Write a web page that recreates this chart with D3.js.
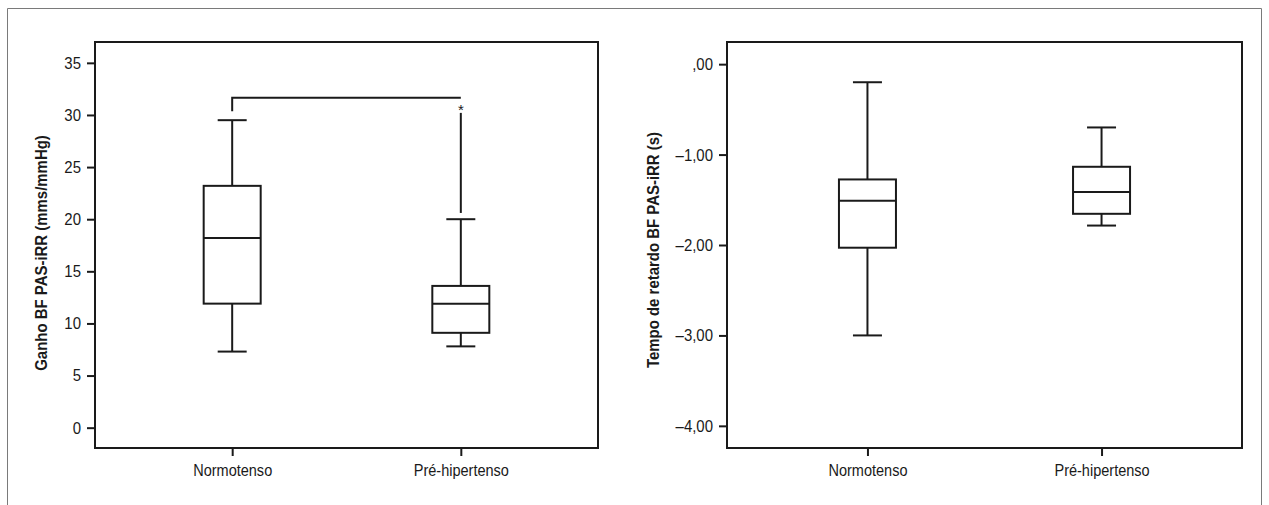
<!DOCTYPE html>
<html>
<head>
<meta charset="utf-8">
<script src="https://cdn.jsdelivr.net/npm/d3@7"></script>
<style>
  body { margin: 0; background: #fff; }
  svg text { font-family: "Liberation Sans", Arial, sans-serif; fill: #1a1a1a; }
</style>
</head>
<body>
<svg id="chart" width="1269" height="505"></svg>
<script>
// groups on the x axis (both panels)
const groups = ["Normotenso", "Pré-hipertenso"];

// left panel: Ganho BF PAS-iRR (mms/mmHg)
const gainLow = [7.3, 7.8];
const gainQ1 = [11.9, 9.1];
const gainMedian = [18.2, 11.9];
const gainQ3 = [23.2, 13.6];
const gainHigh = [29.5, 20.0];
const gainTicks = [0, 5, 10, 15, 20, 25, 30, 35];
// extreme value segment on Pré-hipertenso and the significance bracket
const gainExtreme = [null, [20.6, 30.2]];
const gainBracket = { y: 31.65, leg: 30.35, mark: "*", markAt: 30.85 };

// right panel: Tempo de retardo BF PAS-iRR (s)
const delayLow = [-3.0, -1.785];
const delayQ1 = [-2.03, -1.655];
const delayMedian = [-1.51, -1.415];
const delayQ3 = [-1.275, -1.135];
const delayHigh = [-0.2, -0.7];
const delayTicks = [0, -1, -2, -3, -4];

const svg = d3.select('#chart');
const ink = '#1a1a1a';
const squeeze = 0.88; // the original uses a condensed face

// outer figure frame (open at the bottom)
svg.append('path')
  .attr('d', 'M7.5,505 V8.5 H1261.5 V505')
  .attr('fill', 'none')
  .attr('stroke', '#7a7a7a')
  .attr('stroke-width', 1);

// squeeze text horizontally, keeping its anchor point in place
function narrow(sel) {
  sel.each(function() {
    const t = d3.select(this);
    const x = +t.attr('x') || 0;
    t.attr('x', x / squeeze).attr('transform', `scale(${squeeze},1)`);
  });
}

function drawPanel(cfg) {
  const g = svg.append('g');
  const y = d3.scaleLinear().domain(cfg.domain).range([cfg.bottom, cfg.top]);
  const x = d3.scalePoint().domain(groups).range([cfg.left, cfg.right]).padding(0.6);
  const boxW = 57, capW = 29;

  // y axis
  const yAxis = g.append('g')
    .attr('transform', `translate(${cfg.left},0)`)
    .call(d3.axisLeft(y).tickValues(cfg.ticks).tickSize(8).tickPadding(6).tickFormat(cfg.format));
  yAxis.select('.domain').remove();
  yAxis.selectAll('.tick line').attr('stroke', ink).attr('stroke-width', 2);
  yAxis.selectAll('.tick text').attr('font-size', 17).attr('fill', ink).call(narrow);

  // x axis
  const xAxis = g.append('g')
    .attr('transform', `translate(0,${cfg.bottom})`)
    .call(d3.axisBottom(x).tickSize(8).tickPadding(8));
  xAxis.select('.domain').remove();
  xAxis.selectAll('.tick line').attr('stroke', ink).attr('stroke-width', 2);
  xAxis.selectAll('.tick text').attr('font-size', 16.5).attr('fill', ink).call(narrow);

  // plot frame
  g.append('rect')
    .attr('x', cfg.left).attr('y', cfg.top)
    .attr('width', cfg.right - cfg.left).attr('height', cfg.bottom - cfg.top)
    .attr('fill', 'none').attr('stroke', ink).attr('stroke-width', 2);

  // axis title
  g.append('text')
    .attr('transform', `translate(${cfg.titleX},${cfg.titleY}) rotate(-90) scale(${squeeze},1)`)
    .attr('text-anchor', 'middle')
    .attr('font-size', 17)
    .attr('font-weight', 'bold')
    .text(cfg.title);

  // boxes
  groups.forEach(function(name, i) {
    const cx = x(name);
    const s = cfg.stats;
    const line = (x1, y1, x2, y2) => g.append('line')
      .attr('x1', x1).attr('y1', y1).attr('x2', x2).attr('y2', y2)
      .attr('stroke', ink).attr('stroke-width', 2);

    line(cx, y(s.high[i]), cx, y(s.q3[i]));
    line(cx, y(s.q1[i]), cx, y(s.low[i]));
    line(cx - capW / 2, y(s.high[i]), cx + capW / 2, y(s.high[i]));
    line(cx - capW / 2, y(s.low[i]), cx + capW / 2, y(s.low[i]));
    g.append('rect')
      .attr('x', cx - boxW / 2).attr('y', y(s.q3[i]))
      .attr('width', boxW).attr('height', y(s.q1[i]) - y(s.q3[i]))
      .attr('fill', 'none').attr('stroke', ink).attr('stroke-width', 2);
    line(cx - boxW / 2, y(s.median[i]), cx + boxW / 2, y(s.median[i]));

    if (cfg.extreme && cfg.extreme[i]) {
      line(cx, y(cfg.extreme[i][0]), cx, y(cfg.extreme[i][1]));
    }
  });

  // significance bracket
  if (cfg.bracket) {
    const b = cfg.bracket;
    const x0 = x(groups[0]), x1 = x(groups[1]);
    g.append('path')
      .attr('d', `M${x0},${y(b.leg)} V${y(b.y)} H${x1}`)
      .attr('fill', 'none').attr('stroke', ink).attr('stroke-width', 2);
    g.append('text')
      .attr('x', x1).attr('y', y(b.markAt) + 9)
      .attr('text-anchor', 'middle')
      .attr('font-size', 15)
      .text(b.mark);
  }
}

drawPanel({
  left: 95, right: 598, top: 42, bottom: 448,
  domain: [-1.95, 37],
  ticks: gainTicks,
  format: d3.format('d'),
  title: 'Ganho BF PAS-iRR (mms/mmHg)',
  titleX: 47, titleY: 253,
  stats: { low: gainLow, q1: gainQ1, median: gainMedian, q3: gainQ3, high: gainHigh },
  extreme: gainExtreme,
  bracket: gainBracket
});

drawPanel({
  left: 727, right: 1242, top: 42, bottom: 448,
  domain: [-4.245, 0.245],
  ticks: delayTicks,
  format: d => d === 0 ? ',00' : '–' + Math.abs(d).toFixed(2).replace('.', ','),
  title: 'Tempo de retardo BF PAS-iRR (s)',
  titleX: 659, titleY: 250,
  stats: { low: delayLow, q1: delayQ1, median: delayMedian, q3: delayQ3, high: delayHigh }
});
</script>
</body>
</html>
